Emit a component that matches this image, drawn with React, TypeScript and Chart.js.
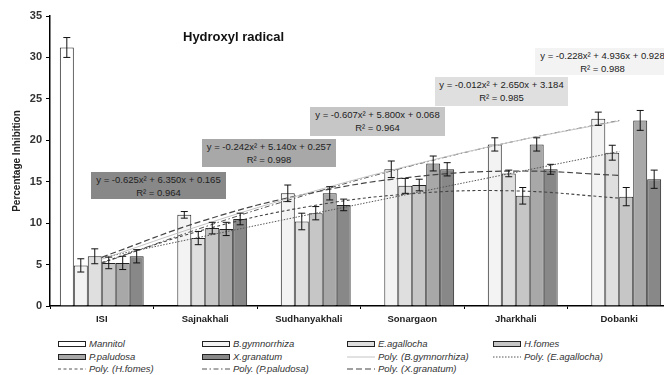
import React, { useEffect, useRef } from "react";
import { Chart, registerables } from "chart.js";

Chart.register(...registerables);

const categories = ["ISI", "Sajnakhali", "Sudhanyakhali", "Sonargaon", "Jharkhali", "Dobanki"];

const mannitol = [31.2, null, null, null, null, null];
const bGymnorrhiza = [4.9, 11.0, 13.6, 16.5, 19.5, 22.6];
const eAgallocha = [6.0, 8.2, 10.2, 14.5, 16.0, 18.5];
const hFomes = [5.2, 9.4, 11.2, 14.6, 13.3, 13.2];
const pPaludosa = [5.2, 9.3, 13.6, 17.2, 19.5, 22.4];
const xGranatum = [6.0, 10.5, 12.2, 16.5, 16.5, 15.3];

const mannitolErr = [1.2, null, null, null, null, null];
const bGymnorrhizaErr = [0.8, 0.4, 1.0, 1.0, 0.8, 0.8];
const eAgallochaErr = [0.9, 0.8, 1.0, 0.9, 0.4, 0.9];
const hFomesErr = [0.7, 0.7, 0.8, 0.7, 1.0, 1.1];
const pPaludosaErr = [0.8, 0.8, 0.8, 0.9, 0.8, 1.2];
const xGranatumErr = [0.8, 0.7, 0.7, 0.8, 0.6, 1.1];

// Polynomial trendline values at each category (as printed equations give them)
const trendBGymnorrhiza = [5.64, 9.89, 13.68, 17.02, 19.91, 22.34];
const trendEAgallocha = [5.82, 8.44, 11.03, 13.59, 16.13, 18.65];
const trendHFomes = [5.26, 9.24, 12.01, 13.56, 13.89, 13.02];
const trendPPaludosa = [5.16, 9.57, 13.5, 16.95, 19.91, 22.39];
const trendXGranatum = [5.89, 10.37, 13.59, 15.57, 16.29, 15.77];

const yMin = 0;
const yMax = 35;
const yStep = 5;

const equations = [
  { eq: "y = -0.625x\u00b2 + 6.350x + 0.165", r2: "R\u00b2 = 0.964" },
  { eq: "y = -0.242x\u00b2 + 5.140x + 0.257", r2: "R\u00b2 = 0.998" },
  { eq: "y = -0.607x\u00b2 + 5.800x + 0.068", r2: "R\u00b2 = 0.964" },
  { eq: "y = -0.012x\u00b2 + 2.650x + 3.184", r2: "R\u00b2 = 0.985" },
  { eq: "y = -0.228x\u00b2 + 4.936x + 0.928", r2: "R\u00b2 = 0.988" },
];

const FONT = "'Liberation Sans', Arial, sans-serif";
const C_MAN = "#ffffff";
const C_BG = "#f3f3f3";
const C_EA = "#dfdfdf";
const C_HF = "#c6c6c6";
const C_PP = "#a8a8a8";
const C_XG = "#888888";

const errorBarPlugin = {
  id: "errorBars",
  afterDatasetsDraw(chart: any) {
    const ctx = chart.ctx;
    const ys = chart.scales.y;
    chart.data.datasets.forEach((ds: any, i: number) => {
      if (!ds.errors) return;
      const meta = chart.getDatasetMeta(i);
      meta.data.forEach((bar: any, j: number) => {
        const v = ds.data[j];
        const e = ds.errors[j];
        if (v == null || e == null) return;
        const x = bar.x;
        const top = ys.getPixelForValue(v + e);
        const bot = ys.getPixelForValue(v - e);
        ctx.save();
        ctx.strokeStyle = "#111";
        ctx.lineWidth = 1;
        ctx.beginPath();
        ctx.moveTo(x, top);
        ctx.lineTo(x, bot);
        ctx.moveTo(x - 3.5, top);
        ctx.lineTo(x + 3.5, top);
        ctx.moveTo(x - 3.5, bot);
        ctx.lineTo(x + 3.5, bot);
        ctx.stroke();
        ctx.restore();
      });
    });
  },
};

function barDs(label: string, data: any[], errors: any[], color: string) {
  return {
    type: "bar",
    label,
    data,
    errors,
    backgroundColor: color,
    borderColor: "#222",
    borderWidth: 1,
    categoryPercentage: 0.81,
    barPercentage: 1.0,
    order: 2,
  };
}

function lineDs(label: string, data: number[], color: string, dash: number[], width: number) {
  return {
    type: "line",
    label,
    data,
    borderColor: color,
    borderWidth: width,
    borderDash: dash,
    pointRadius: 0,
    fill: false,
    tension: 0.4,
    order: 1,
  };
}

const boxes = [
  { left: 91, top: 172, width: 135, height: 27, bg: C_XG },
  { left: 202, top: 139, width: 134, height: 28, bg: C_PP },
  { left: 310, top: 107, width: 135, height: 29, bg: C_HF },
  { left: 435, top: 77, width: 133, height: 29, bg: C_EA },
  { left: 535, top: 48, width: 135, height: 27, bg: C_BG },
];

type LegendItem = { label: string; kind: "bar" | "line"; color: string; dash?: string; width?: number };

const legendRows: LegendItem[][] = [
  [
    { label: "Mannitol", kind: "bar", color: C_MAN },
    { label: "B.gymnorrhiza", kind: "bar", color: C_BG },
    { label: "E.agallocha", kind: "bar", color: C_EA },
    { label: "H.fomes", kind: "bar", color: C_HF },
  ],
  [
    { label: "P.paludosa", kind: "bar", color: C_PP },
    { label: "X.granatum", kind: "bar", color: C_XG },
    { label: "Poly. (B.gymnorrhiza)", kind: "line", color: "#c4c4c4", dash: "", width: 1 },
    { label: "Poly. (E.agallocha)", kind: "line", color: "#555", dash: "1.5,1.5", width: 1 },
  ],
  [
    { label: "Poly. (H.fomes)", kind: "line", color: "#555", dash: "3,2.5", width: 1 },
    { label: "Poly. (P.paludosa)", kind: "line", color: "#555", dash: "5,2.5,1.5,2.5", width: 1 },
    { label: "Poly. (X.granatum)", kind: "line", color: "#444", dash: "6,3", width: 1.1 },
  ],
];

const colLefts = [58, 202, 347, 493];
const rowCenters = [344, 356.5, 369];

export default function App() {
  const canvasRef = useRef<HTMLCanvasElement | null>(null);

  useEffect(() => {
    if (!canvasRef.current) return;
    const chart = new Chart(canvasRef.current, {
      type: "bar",
      data: {
        labels: categories,
        datasets: [
          lineDs("Poly. (B.gymnorrhiza)", trendBGymnorrhiza, "#c4c4c4", [], 1),
          lineDs("Poly. (E.agallocha)", trendEAgallocha, "#555", [1.5, 1.5], 1),
          lineDs("Poly. (H.fomes)", trendHFomes, "#444", [3, 2.5], 1.1),
          lineDs("Poly. (P.paludosa)", trendPPaludosa, "#555", [5, 2.5, 1.5, 2.5], 1),
          lineDs("Poly. (X.granatum)", trendXGranatum, "#444", [6, 3], 1.2),
          barDs("Mannitol", mannitol, mannitolErr, C_MAN),
          barDs("B.gymnorrhiza", bGymnorrhiza, bGymnorrhizaErr, C_BG),
          barDs("E.agallocha", eAgallocha, eAgallochaErr, C_EA),
          barDs("H.fomes", hFomes, hFomesErr, C_HF),
          barDs("P.paludosa", pPaludosa, pPaludosaErr, C_PP),
          barDs("X.granatum", xGranatum, xGranatumErr, C_XG),
        ] as any,
      },
      options: {
        responsive: false,
        animation: false,
        devicePixelRatio: 1,
        layout: { padding: { top: 16, right: 1, bottom: 0, left: 0 } },
        plugins: {
          legend: { display: false },
          tooltip: { enabled: false },
          title: { display: false },
        },
        scales: {
          x: {
            type: "category",
            offset: true,
            grid: {
              display: true,
              drawOnChartArea: false,
              drawTicks: true,
              tickLength: 3,
              color: "#000",
              offset: true,
            },
            border: { display: true, color: "#000", width: 1.5 },
            ticks: {
              color: "#222",
              padding: 5,
              maxRotation: 0,
              autoSkip: false,
              font: { family: FONT, size: 9.5, weight: "bold" },
            },
            afterFit: (s: any) => {
              s.height = 24;
            },
          },
          y: {
            min: yMin,
            max: yMax,
            ticks: {
              stepSize: yStep,
              color: "#333",
              padding: 4,
              font: { family: FONT, size: 11, weight: "bold" },
            },
            grid: {
              display: true,
              drawOnChartArea: false,
              drawTicks: true,
              tickLength: 4,
              color: "#000",
            },
            border: { display: true, color: "#000", width: 1.5 },
            title: {
              display: true,
              text: "Percentage Inhibition",
              color: "#222",
              padding: { top: 11, bottom: 0 },
              font: { family: FONT, size: 10, weight: "bold" },
            },
            afterFit: (s: any) => {
              s.width = 50;
            },
          },
        },
      } as any,
      plugins: [errorBarPlugin],
    });
    return () => chart.destroy();
  }, []);

  return (
    <div
      style={{
        position: "absolute",
        left: 0,
        top: 0,
        width: 664,
        height: 375,
        overflow: "hidden",
        background: "#fff",
        fontFamily: FONT,
      }}
    >
      <canvas
        ref={canvasRef}
        width={672}
        height={330}
        style={{ position: "absolute", left: 0, top: 0, width: 672, height: 330 }}
      />
      <div
        style={{
          position: "absolute",
          left: 183,
          top: 29,
          fontSize: 13,
          fontWeight: "bold",
          color: "#111",
          whiteSpace: "nowrap",
          lineHeight: "16px",
        }}
      >
        Hydroxyl radical
      </div>
      {boxes.map((b, i) => (
        <div
          key={i}
          style={{
            position: "absolute",
            left: b.left,
            top: b.top,
            width: b.width,
            height: b.height,
            background: b.bg,
            color: "#222",
            fontSize: 9.5,
            lineHeight: "13px",
            textAlign: "center",
            whiteSpace: "nowrap",
            paddingTop: 1,
            boxSizing: "border-box",
          }}
        >
          <div>{equations[i].eq}</div>
          <div>{equations[i].r2}</div>
        </div>
      ))}
      {legendRows.map((row, ri) =>
        row.map((item, ci) => (
          <div
            key={`${ri}-${ci}`}
            style={{
              position: "absolute",
              left: colLefts[ci],
              top: rowCenters[ri] - 6,
              height: 12,
              display: "flex",
              alignItems: "center",
              whiteSpace: "nowrap",
            }}
          >
            {item.kind === "bar" ? (
              <div
                style={{
                  width: 28,
                  height: 6,
                  boxSizing: "border-box",
                  border: "1px solid #222",
                  background: item.color,
                }}
              />
            ) : (
              <svg width={28} height={6} style={{ display: "block" }}>
                <line
                  x1={0}
                  y1={3}
                  x2={28}
                  y2={3}
                  stroke={item.color}
                  strokeWidth={item.width}
                  strokeDasharray={item.dash || undefined}
                />
              </svg>
            )}
            <span
              style={{
                marginLeft: 3,
                fontSize: 9.5,
                fontStyle: "italic",
                color: "#333",
                lineHeight: "12px",
              }}
            >
              {item.label}
            </span>
          </div>
        ))
      )}
    </div>
  );
}
